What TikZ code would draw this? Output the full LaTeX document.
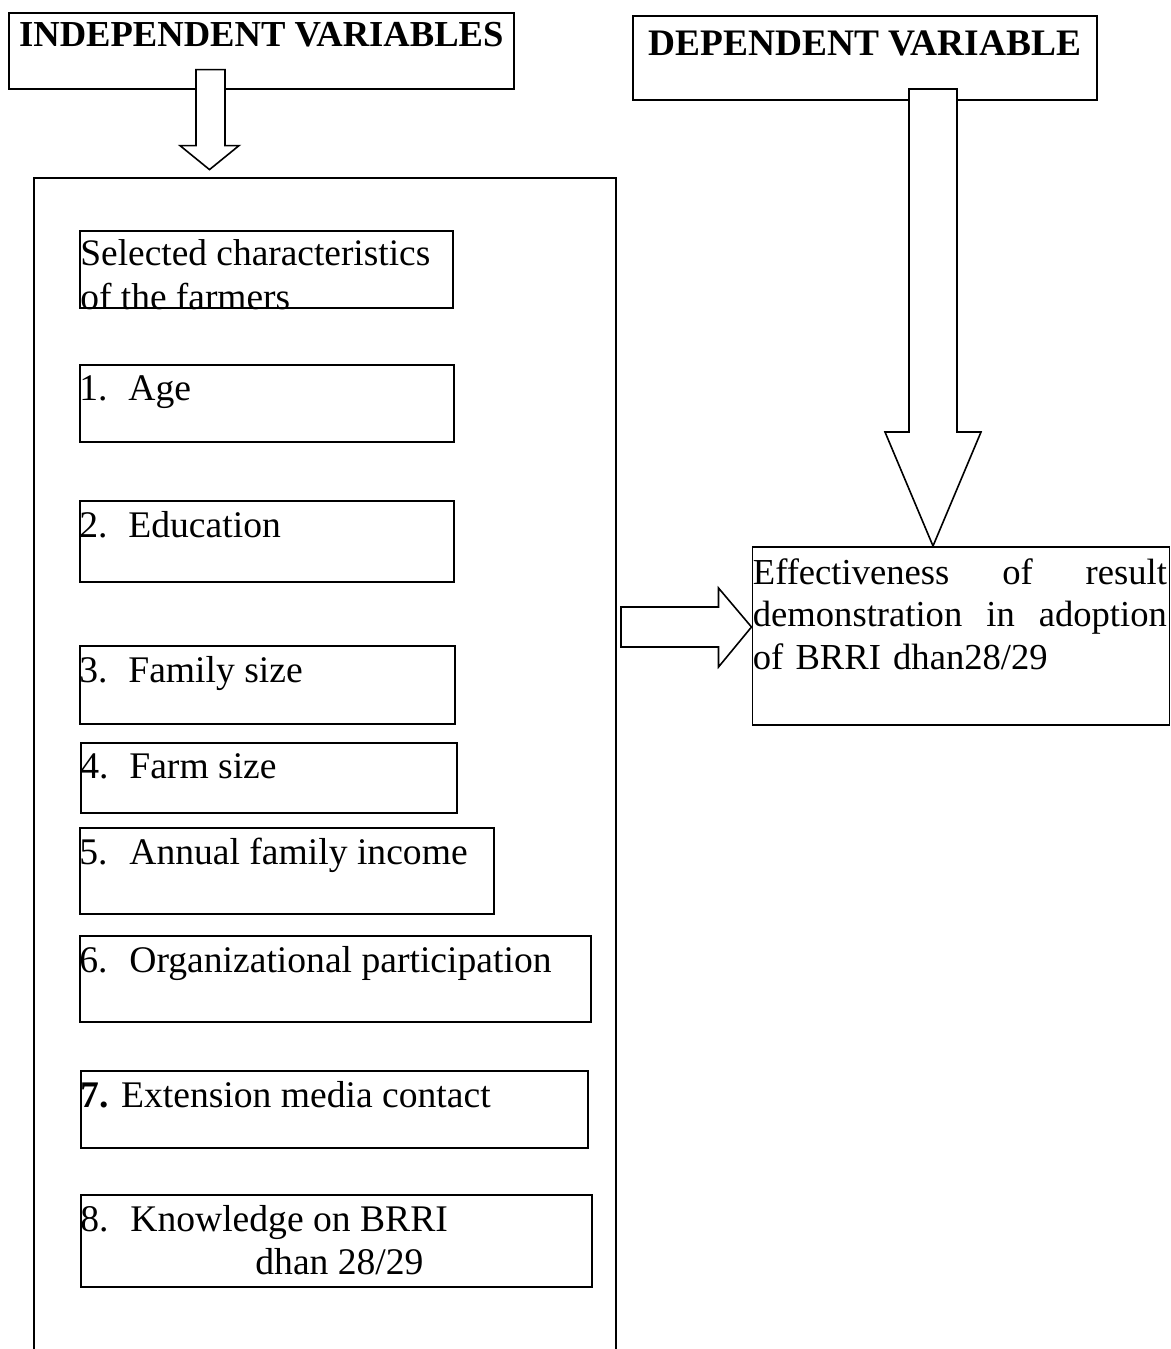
\documentclass[tikz,border=0pt]{standalone}
\usepackage{fontspec}
\setmainfont{Liberation Serif}
\tikzset{
  varbox/.style={draw,line width=.8pt,inner sep=0pt,anchor=north west},
  itemtxt/.style={anchor=north west,inner sep=0pt,align=left,font=\fontsize{18.8}{21.5}\selectfont},
  headtxt/.style={anchor=north,inner sep=0pt,font=\bfseries\fontsize{18.3}{21}\selectfont},
  blockarrow/.style={draw,line width=.8pt,fill=white,line join=miter}
}
\begin{document}
\begin{tikzpicture}[x=.5pt,y=-.5pt]
\useasboundingbox (0,0) rectangle (1171,1349);
%
\node[varbox,minimum width=252.5pt,minimum height=38pt] (indep) at (8,12) {};
\node[headtxt] (indeptxt) at ([yshift=-5pt]indep.north) {INDEPENDENT VARIABLES};
\node[varbox,minimum width=232pt,minimum height=42pt] (dep) at (632,15) {};
\node[headtxt,font=\bfseries\fontsize{18.7}{21}\selectfont] (deptxt) at ([yshift=-7.5pt]dep.north) {DEPENDENT VARIABLE};
%
\node[varbox,minimum width=291pt,minimum height=589.5pt] (charbox) at (33,177) {};
%
\node[varbox,minimum width=186.5pt,minimum height=38.5pt] (sel) at (79,230) {};
\node[itemtxt,font=\fontsize{18.7}{22}\selectfont] (seltxt) at ([xshift=.5pt,yshift=-4.5pt]sel.north west) {Selected characteristics\\of the farmers};
\node[varbox,minimum width=187pt,minimum height=38.5pt] (age) at (79,364) {};
\node[itemtxt] (agetxt) at ([yshift=-5.5pt]age.north west) {\makebox[24.5pt][l]{1.}Age};
\node[varbox,minimum width=187pt,minimum height=40.5pt] (edu) at (79,500) {};
\node[itemtxt] (edutxt) at ([yshift=-5.5pt]edu.north west) {\makebox[24.5pt][l]{2.}Education};
\node[varbox,minimum width=187.5pt,minimum height=39pt] (fam) at (79,645) {};
\node[itemtxt] (famtxt) at ([yshift=-5.5pt]fam.north west) {\makebox[24.5pt][l]{3.}Family size};
\node[varbox,minimum width=188pt,minimum height=35pt] (farm) at (80,742) {};
\node[itemtxt] (farmtxt) at ([yshift=-5.5pt]farm.north west) {\makebox[24.5pt][l]{4.}Farm size};
\node[varbox,minimum width=207pt,minimum height=43pt] (inc) at (79,827) {};
\node[itemtxt] (inctxt) at ([yshift=-5.5pt]inc.north west) {\makebox[25pt][l]{5.}Annual family income};
\node[varbox,minimum width=255.5pt,minimum height=43pt] (org) at (79,935) {};
\node[itemtxt] (orgtxt) at ([yshift=-5.5pt]org.north west) {\makebox[25pt][l]{6.}Organizational participation};
\node[varbox,minimum width=253.5pt,minimum height=38.5pt] (ext) at (80,1070) {};
\node[itemtxt] (exttxt) at ([yshift=-5.5pt]ext.north west) {\textbf{7.} Extension media contact};
\node[varbox,minimum width=255.5pt,minimum height=46pt] (know) at (80,1194) {};
\node[itemtxt] (knowtxt) at ([yshift=-5.5pt]know.north west) {\makebox[25pt][l]{8.}Knowledge on BRRI\\\hspace*{87.5pt}dhan 28/29};
%
\node[varbox,minimum width=208.5pt,minimum height=89pt] (effect) at (751.5,546) {};
\node[itemtxt,text width=207pt,font=\fontsize{18.3}{21.25}\selectfont] (effecttxt) at ([xshift=.5pt,yshift=-6pt]effect.north west)
  {Effectiveness\hfill of\hfill result\\demonstration\hfill in\hfill adoption\\of BRRI dhan28/29};
%
\draw[blockarrow] (indep.south west) ++(201.5,80) -- ++(29.5,-24) -- ++(-14,0) -- ++(0,-76)
  -- ++(-29,0) -- ++(0,76) -- ++(-16,0) -- cycle;
\draw[blockarrow] (effect.north west) ++(181.5,0) -- ++(48,-114) -- ++(-24,0) -- ++(0,-343)
  -- ++(-48,0) -- ++(0,343) -- ++(-24,0) -- cycle;
\draw[blockarrow] (effect.north west) ++(0,81) -- ++(-33,-39) -- ++(0,19) -- ++(-97.5,0)
  -- ++(0,40) -- ++(97.5,0) -- ++(0,20) -- cycle;
%
\end{tikzpicture}
\end{document}
